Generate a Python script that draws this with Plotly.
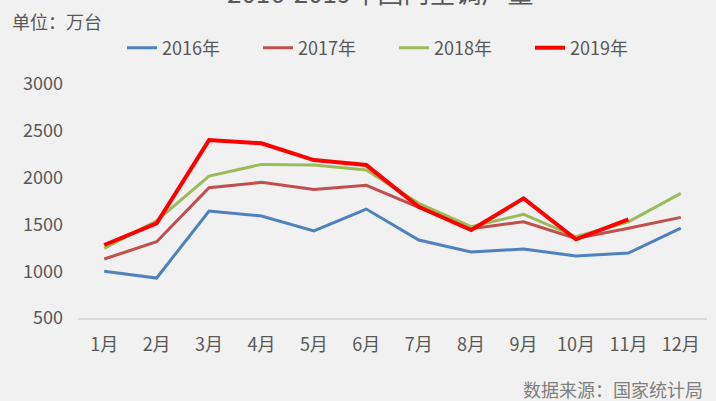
import plotly.graph_objects as go

months = ["1月", "2月", "3月", "4月", "5月", "6月", "7月", "8月", "9月", "10月", "11月", "12月"]
y2016 = [1000, 927, 1643, 1590, 1430, 1664, 1333, 1205, 1237, 1162, 1194, 1461]
y2017 = [1130, 1315, 1892, 1949, 1874, 1917, 1682, 1454, 1528, 1351, 1458, 1575]
y2018 = [1244, 1539, 2016, 2141, 2134, 2081, 1725, 1475, 1607, 1368, 1528, 1832]
y2019 = [1280, 1511, 2401, 2366, 2187, 2134, 1689, 1440, 1778, 1341, 1554]
series_names = ["2016年", "2017年", "2018年", "2019年"]
colors = ["#4f81bd", "#c0504d", "#9bbb59", "#ff0000"]
widths = [3, 3, 3, 4]

FONT = "Noto Sans CJK SC"
TXT = "#595959"

fig = go.Figure()
for name, vals, c, w in zip(series_names, [y2016, y2017, y2018, y2019], colors, widths):
    fig.add_trace(go.Scatter(x=months[:len(vals)], y=vals, mode="lines", name=name,
                             line=dict(color=c, width=w)))

fig.update_layout(
    width=716, height=401,
    paper_bgcolor="#f1f1f1", plot_bgcolor="#f1f1f1",
    margin=dict(l=78, r=9, t=84, b=83),
    font=dict(family=FONT, size=18, color=TXT),
    showlegend=True,
    legend=dict(orientation="h", x=0.07, y=1.154, xanchor="left", yanchor="middle",
                entrywidth=91, entrywidthmode="pixels",
                font=dict(size=18, color=TXT), bgcolor="rgba(0,0,0,0)"),
    xaxis=dict(showgrid=False, showline=True, linecolor="#d9d9d9", linewidth=2,
               ticks="", tickfont=dict(size=18, color=TXT), range=[-0.5, 11.5],
               ticklabelstandoff=9),
    yaxis=dict(range=[500, 3000], dtick=500, showgrid=False, zeroline=False,
               showline=False, ticks="", tickfont=dict(size=18, color=TXT),
               ticklabelstandoff=14),
    annotations=[
        dict(text="2016-2019年国内空调产量", xref="paper", yref="paper", x=0.48, y=1.395,
             xanchor="center", yanchor="middle", showarrow=False,
             font=dict(size=26, color=TXT)),
        dict(text="单位：万台", xref="paper", yref="paper", x=-0.108, y=1.27,
             xanchor="left", yanchor="middle", showarrow=False,
             font=dict(size=18, color=TXT)),
        dict(text="数据来源：国家统计局", xref="paper", yref="paper", x=0.997, y=-0.302,
             xanchor="right", yanchor="middle", showarrow=False,
             font=dict(size=18, color="#7f7f7f")),
    ],
)

fig.write_html("out.html", config={"displayModeBar": False},
               post_script="document.body.style.margin='0';")
